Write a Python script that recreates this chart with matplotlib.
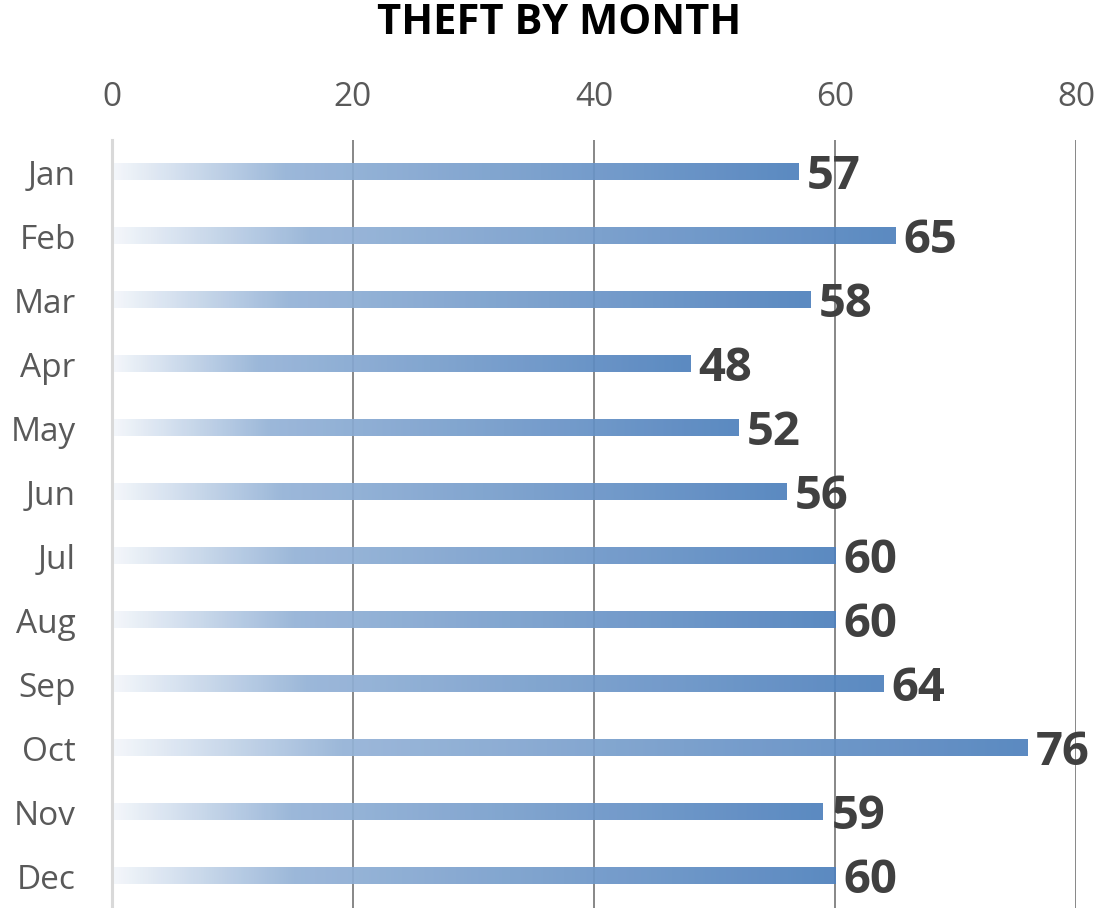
import numpy as np
import matplotlib
matplotlib.use("Agg")
import matplotlib.pyplot as plt
import matplotlib.colors as mcolors

plt.rcParams["font.family"] = ["Open Sans", "DejaVu Sans"]

# data
months = ["Jan", "Feb", "Mar", "Apr", "May", "Jun",
          "Jul", "Aug", "Sep", "Oct", "Nov", "Dec"]
thefts = [57, 65, 58, 48, 52, 56, 60, 60, 64, 76, 59, 60]
x_ticks = [0, 20, 40, 60, 80]

# white -> light blue -> office blue, per bar
grad = mcolors.LinearSegmentedColormap.from_list(
    "bar", [(0.0, "#F4F7FB"), (0.25, "#95B3D7"), (1.0, "#4F81BD")])

fig = plt.figure(figsize=(11.01, 9.08), dpi=100)
ax = fig.add_axes([0.1017, -0.0022, 0.8756, 0.848])

bar_h = 0.25
ramp = np.linspace(0, 1, 256).reshape(1, -1)
for i, v in enumerate(thefts):
    rgba = grad(ramp)
    rgba[..., 3] = 0.93
    ax.imshow(rgba, extent=[0, v, i + bar_h / 2, i - bar_h / 2],
              aspect="auto", interpolation="bilinear", zorder=2)
    ax.annotate(str(v), (v, i), xytext=(6, -12), textcoords="offset points",
                ha="left", va="baseline", fontsize=34, fontweight="bold",
                color="#404040", zorder=4)

ax.set_xlim(0, 80)
ax.set_ylim(11.5 + 0.03, -0.5)
ax.set_xticks(x_ticks)
ax.set_yticks(range(len(months)))
ax.set_yticklabels(months)
ax.xaxis.tick_top()
ax.tick_params(axis="x", length=0, pad=19, labelsize=24, labelcolor="#595959")
ax.tick_params(axis="y", length=0, pad=26, labelsize=24, labelcolor="#595959")

ax.grid(axis="x", color="#878787", lw=1.4, zorder=1)
ax.set_axisbelow(True)
for side in ("top", "right", "bottom"):
    ax.spines[side].set_visible(False)
ax.spines["left"].set_color("#D9D9D9")
ax.spines["left"].set_linewidth(2.2)
ax.spines["left"].set_zorder(3)

fig.text(0.508, 0.974, "THEFT BY MONTH", ha="center", va="center",
         fontsize=30, fontweight="bold", color="#000000")

fig.savefig("out.png", dpi=100)
plt.close(fig)
